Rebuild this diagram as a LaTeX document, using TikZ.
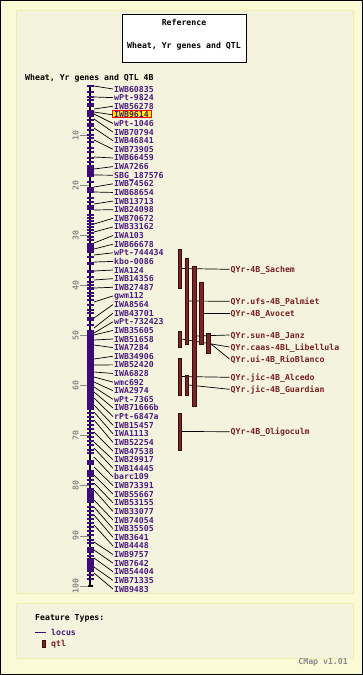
\documentclass[tikz,border=0pt]{standalone}
\usepackage{fontspec}
\newfontfamily\cmono{DejaVu Sans Mono}
\definecolor{outerbg}{HTML}{FAFAD7}
\definecolor{innerbg}{HTML}{F4F4DE}
\definecolor{panelln}{HTML}{EEEEB0}
\definecolor{locuscol}{HTML}{3E0A7A}
\definecolor{loctext}{HTML}{4A1A80}
\definecolor{qtlfill}{HTML}{7A2626}
\definecolor{qtlline}{HTML}{3A0C0C}
\definecolor{qtltext}{HTML}{7A2020}
\definecolor{tickgray}{HTML}{8A8A8A}
\tikzset{
  txt/.style={font=\cmono\bfseries\fontsize{8.2}{8.2}\selectfont, inner sep=0pt, text height=6pt, text depth=0pt},
  mlabel/.style={txt, anchor=west, inner xsep=1pt, text=loctext},
  qlabel/.style={txt, anchor=west, inner xsep=1pt, text=qtltext},
  leader/.style={draw=black, line width=0.7pt},
  qbar/.style={fill=qtlfill, draw=qtlline, line width=0.5pt},
  mtick/.style={draw=locuscol, line width=1.5pt},
  mblock/.style={fill=locuscol},
  panel/.style={fill=innerbg, draw=panelln, line width=1pt}
}
\begin{document}
\begin{tikzpicture}[x=1pt,y=-1pt]
\useasboundingbox (0,0) rectangle (363,675);
\fill[outerbg] (0,0) rectangle (363,675);
\draw[black, line width=1pt] (0.5,0.5) rectangle (362.5,674.5);
% panels
\draw[panel] (16,10) rectangle (353,593);
\draw[panel] (16,603) rectangle (353,658);
% reference box
\node[draw=black, fill=white, line width=0.8pt, minimum width=124pt, minimum height=48pt, inner sep=0pt] (refbox) at (184,38) {};
\node[txt, text=black] (reft1) at (184,22) {Reference};
\node[txt, text=black] (reft2) at (184,45) {Wheat, Yr genes and QTL};
\node[txt, text=black, anchor=west] (maptitle) at (25,77) {Wheat, Yr genes and QTL 4B};
% scale ticks
\foreach \k in {10,20,...,100} {
  \pgfmathsetmacro\ty{85+5.01*\k}
  \coordinate (tl\k) at (80,\ty);
  \coordinate (tr\k) at (90,\ty);
  \draw[tickgray, line width=0.8pt] (tl\k) -- (tr\k);
  \node[txt, text=tickgray, rotate=90] (tk\k) at (75.5,\ty) {\k};
}
% chromosome
\coordinate (ctop) at (90,85);
\coordinate (cbot) at (90,586);
\draw[black, line width=2pt] (ctop) -- (cbot);
\draw[black, line width=1.5pt] (87.5,586) -- (93,586);
\foreach \a/\b in {103/107,110/117,123/127,165/177,187/193,205/210,243/253,262/265,270/273,287/290,330/410,460/465,470/477,488/503,547/553,558/572}
  \fill[mblock] (86.5,\a) rectangle (93.5,\b);
\foreach \t in {86,92,97,100,120,130,135,138,142,148,152,158,162,182,198,202,215,218,221,224,227,230,233,237,240,257,277,282,285,293,296,300,305,310,313,318,320,325,413,417,421,425,429,433,437,441,445,450,453,480,484,507,511,515,519,523,527,531,535,540,543,556,575,579}
  \draw[mtick] (86.5,\t) -- (93.5,\t);
% highlight box
\draw[fill=yellow, draw=red, line width=0.8pt] (112,110.3) rectangle (151.7,117.7);
% marker labels
\foreach \m/\name [count=\i] in {86/IWB60835,97/wPt-9824,109/IWB56278,112/IWB9614,114/wPt-1046,119/IWB70794,128/IWB46841,140/IWB73905,157/IWB66459,169/IWA7266,175/SBG\_187576,187/IWB74562,192/IWB68654,204/IWB13713,210/IWB24098,224/IWB70672,232/IWB33162,243/IWA103,249/IWB66678,255/wPt-744434,262/kbo-0086,271/IWA124,280/IWB14356,288/IWB27487,302/gwm112,318/IWA8564,328/IWB43701,333/wPt-732423,335/IWB35605,340/IWB51658,345/IWA7284,359/IWB34906,365/IWB52420,372/IWA6828,377/wmc692,382/IWA2974,387/wPt-7365,392/IWB71666b,398/rPt-6847a,405/IWB15457,412/IWA1113,420/IWB52254,432/IWB47538,442/IWB29917,448/IWB14445,457/barc109,467/IWB73391,475/IWB55667,483/IWB53155,490/IWB33077,500/IWB74054,507/IWB35505,515/IWB3641,525/IWB4448,542/IWB9757,550/IWB7642,558/IWB54404,567/IWB71335,573/IWB9483} {
  \pgfmathsetmacro\ly{89+(\i-1)*8.62069}
  \coordinate (c\i) at (94,\m);
  \node[mlabel] (l\i) at (113,\ly) {\name};
  \draw[leader] (c\i) -- (l\i.west);
}
% QTL lines then bars
\foreach \x/\ya/\yb/\ly/\name [count=\j] in {
  178/249/288/269.3/QYr-4B\_Sachem,
  185/258/344/301.3/QYr.ufs-4B\_Palmiet,
  192.3/266/406/335/QYr.sun-4B\_Janz,
  199.3/282/344/313/QYr-4B\_Avocet,
  178/331/347/347/QYr.caas-4BL\_Libellula,
  206.3/333/353/359/QYr.ui-4B\_RioBlanco,
  178/358/395/377.3/QYr.jic-4B\_Alcedo,
  185/375/395/389.3/QYr.jic-4B\_Guardian,
  178/413/450/431.7/QYr-4B\_Oligoculm} {
  \pgfmathsetmacro\ym{(\ya+\yb)/2}
  \pgfmathsetmacro\xr{\x+3.5}
  \coordinate (q\j) at (\xr,\ym);
  \node[qlabel] (ql\j) at (229.5,\ly) {\name};
  \draw[leader] (q\j) -- (ql\j.west);
}
\foreach \x/\ya/\yb in {178/249/288,185/258/344,192.3/266/406,199.3/282/344,178/331/347,206.3/333/353,178/358/395,185/375/395,178/413/450}
  \draw[qbar] (\x,\ya) rectangle ++(3.5,\yb-\ya);
% legend
\node[txt, text=black, anchor=west] (ftitle) at (35,617) {Feature Types:};
\coordinate (lg1) at (35,632);
\coordinate (lg2) at (46,632);
\draw[locuscol, line width=1pt] (lg1) -- (lg2);
\node[txt, text=loctext, anchor=west] (lglocus) at (51,632) {locus};
\draw[qbar] (42,640) rectangle (45.5,647);
\node[txt, text=qtltext, anchor=west] (lgqtl) at (51,643.5) {qtl};
\node[txt, text=tickgray, anchor=east] (ver) at (348,661) {CMap v1.01};
\end{tikzpicture}
\end{document}
